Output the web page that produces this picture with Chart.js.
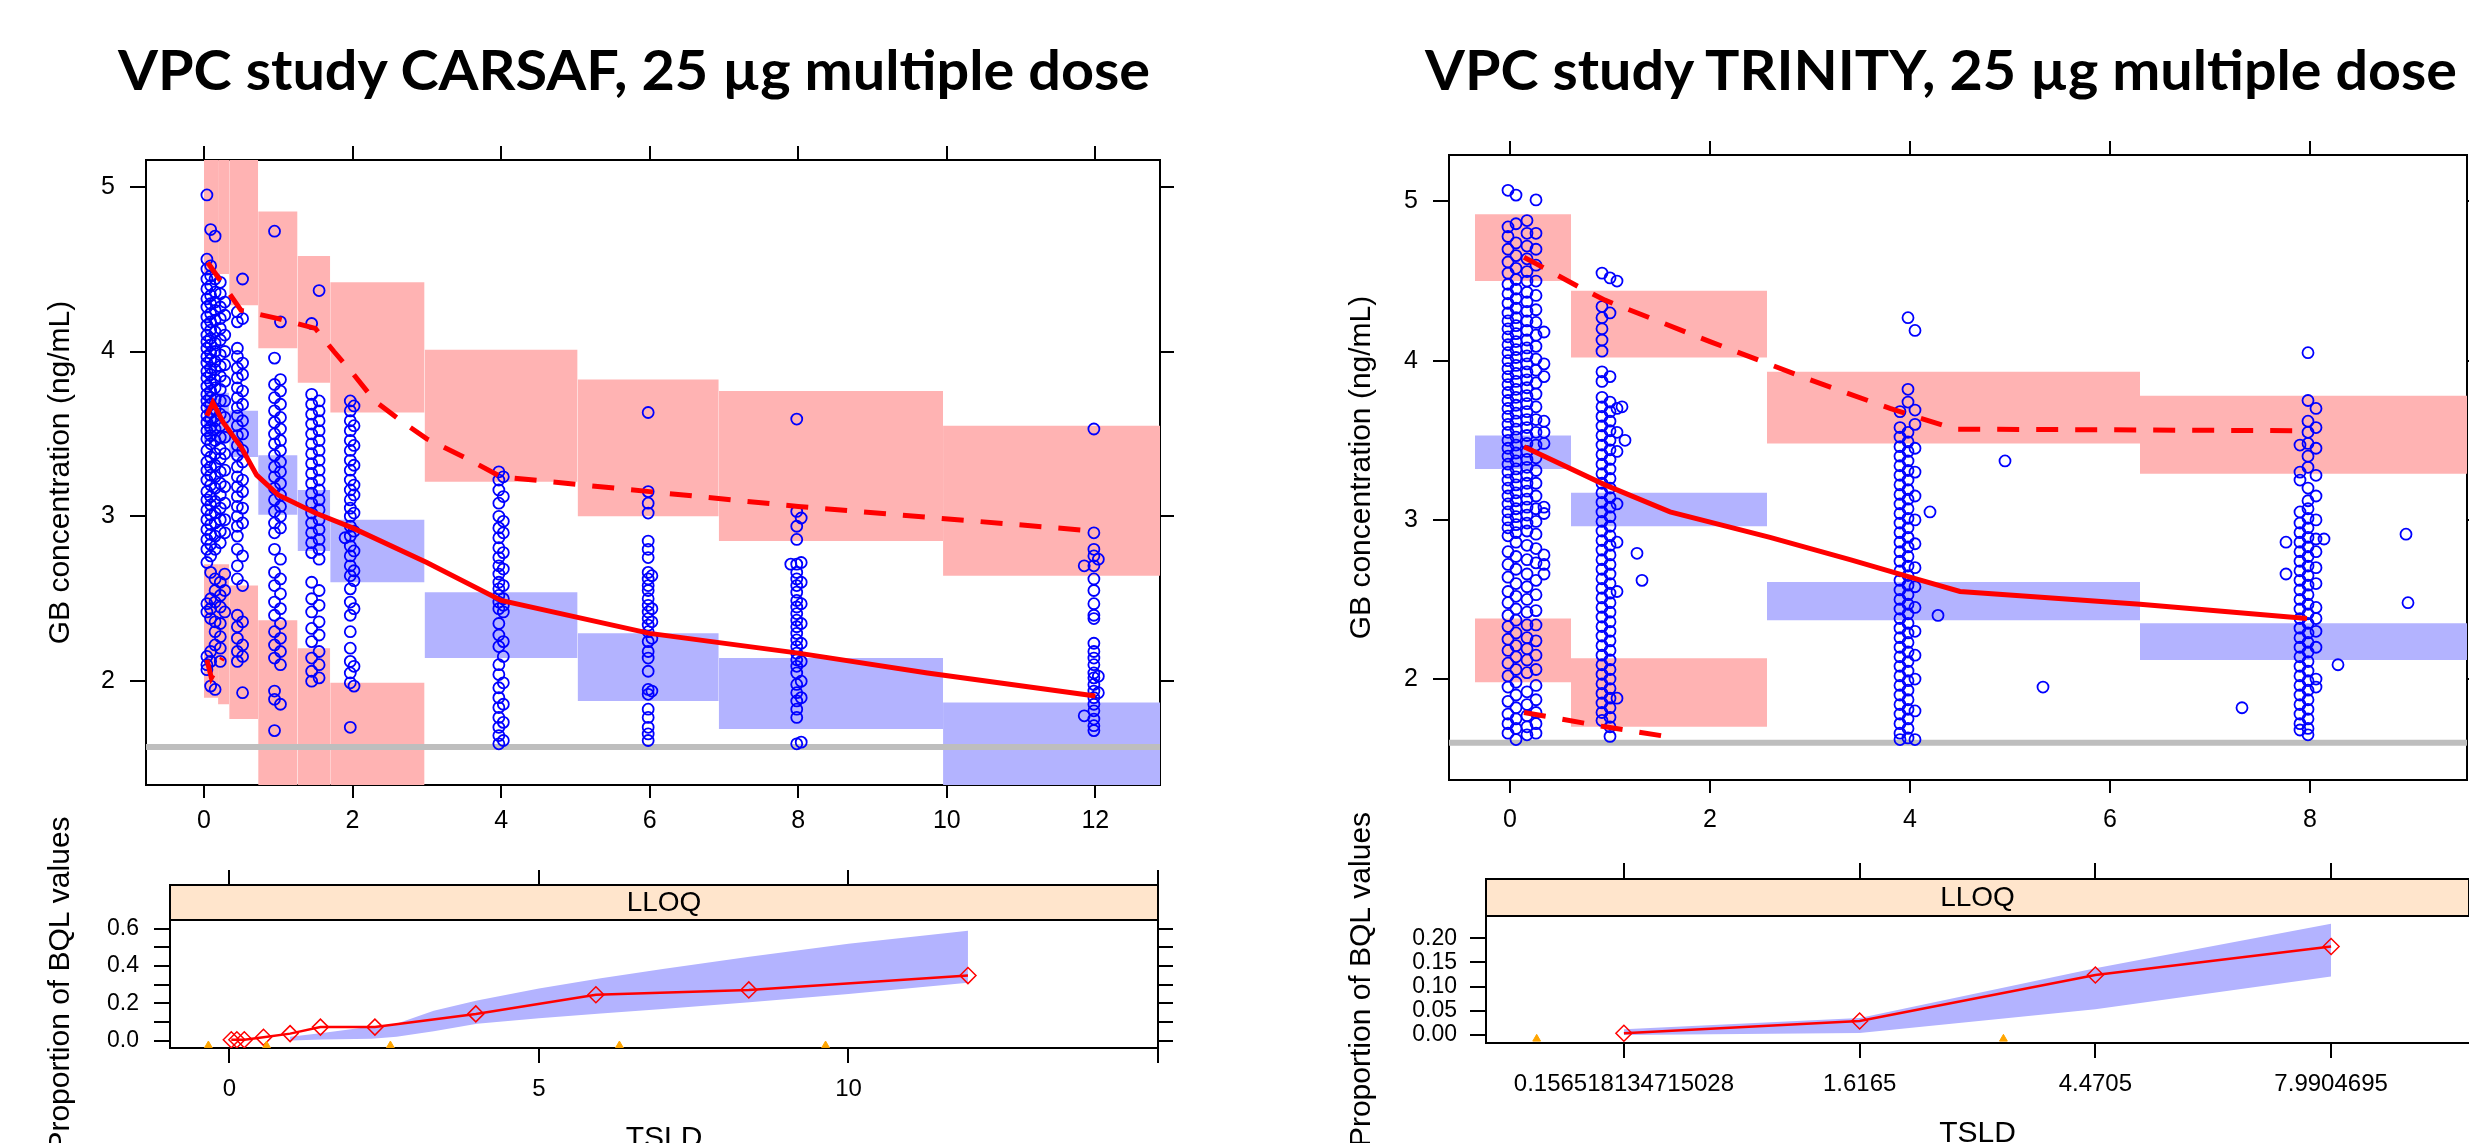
<!DOCTYPE html>
<html>
<head>
<meta charset="utf-8">
<script src="https://cdn.jsdelivr.net/npm/chart.js@4/dist/chart.umd.min.js"></script>
<style>
body { margin:0; width:2469px; height:1143px; overflow:hidden; background:#fff; position:relative; }
canvas { position:absolute; }
.ttl { position:absolute; top:41px; font-family: Lato, 'Liberation Sans', sans-serif; font-weight:bold; font-size:56px; line-height:56px; white-space:nowrap; transform-origin:left top; color:#000; }
</style>
</head>
<body>
<div class="ttl" id="t1">VPC study CARSAF, 25 µg multiple dose</div>
<div class="ttl" id="t2">VPC study TRINITY, 25 µg multiple dose</div>
<canvas id="mainL" width="1180" height="720" style="left:0;top:130px"></canvas>
<canvas id="mainR" width="1166" height="725" style="left:1303px;top:125px"></canvas>
<canvas id="bqlL" width="1180" height="385" style="left:0;top:790px"></canvas>
<canvas id="bqlR" width="1166" height="385" style="left:1303px;top:790px"></canvas>
<script>
// ---------------- CARSAF (left) ----------------
const LLOQ = 1.6;

// VPC bins and prediction intervals
const carsafBinStart = [0, 0.19, 0.34, 0.73, 1.26, 1.70, 2.97, 5.03, 6.93, 9.95];
const carsafBinEnd   = [0.19, 0.34, 0.73, 1.26, 1.70, 2.97, 5.03, 6.93, 9.95, 12.87];
const carsafHiPiLo  = [4.47, 4.47, 4.28, 4.02, 3.81, 3.63, 3.21, 3.00, 2.85, 2.64];
const carsafHiPiHi  = [5.5, 5.5, 5.5, 4.85, 4.58, 4.42, 4.01, 3.83, 3.76, 3.55];
const carsafMedPiLo = [3.45, 3.45, 3.36, 3.01, 2.79, 2.60, 2.14, 1.88, 1.71, 1.0];
const carsafMedPiHi = [3.75, 3.75, 3.64, 3.37, 3.16, 2.98, 2.54, 2.29, 2.14, 1.87];
const carsafLoPiLo  = [1.90, 1.86, 1.77, 1.0, 1.0, 1.0, null, null, null, null];
const carsafLoPiHi  = [2.71, 2.71, 2.58, 2.37, 2.20, 1.99, null, null, null, null];

// observed percentiles
const carsafMedT = [0.04, 0.12, 0.26, 0.5, 0.71, 1.0, 1.5, 2.0, 3.0, 4.0, 6.0, 8.0, 9.74, 12.0];
const carsafMedY = [3.61, 3.69, 3.57, 3.42, 3.25, 3.13, 3.02, 2.93, 2.72, 2.49, 2.29, 2.17, 2.05, 1.91];
const carsafP95T = [0.05, 0.5, 1.0, 1.5, 1.75, 2.0, 2.3, 2.65, 3.0, 3.5, 4.0, 6.0, 8.0, 12.0];
const carsafP95Y = [4.54, 4.25, 4.20, 4.14, 4.00, 3.87, 3.70, 3.58, 3.47, 3.36, 3.24, 3.15, 3.06, 2.91];
const carsafP05T = [0.04, 0.1, 0.25];
const carsafP05Y = [2.13, 2.02, 2.14];

// observations, one column per time
const carsafObsT = [0.04, 0.09, 0.15, 0.22, 0.28, 0.45, 0.52, 0.95, 1.03, 1.45, 1.55, 1.9, 1.97, 2.02,
                    3.97, 4.03, 5.98, 6.03, 7.9, 7.98, 8.04, 11.85, 11.98, 12.04];
const carsafObsY = [
  [4.95, 4.56, 4.50, 4.44, 4.38, 4.32, 4.27, 4.21, 4.16, 4.10, 4.06, 4.02, 3.97, 3.93, 3.88, 3.84, 3.79, 3.74, 3.70, 3.66, 3.61, 3.57, 3.52, 3.47, 3.40, 3.33, 3.28, 3.22, 3.15, 3.10, 3.04, 2.98, 2.92, 2.86, 2.80, 2.72, 2.47, 2.42, 2.15, 2.10, 2.07],
  [4.74, 4.52, 4.46, 4.40, 4.34, 4.29, 4.23, 4.18, 4.13, 4.08, 4.04, 3.99, 3.95, 3.90, 3.86, 3.81, 3.76, 3.72, 3.68, 3.63, 3.59, 3.54, 3.49, 3.44, 3.36, 3.30, 3.25, 3.19, 3.12, 3.07, 3.01, 2.95, 2.89, 2.83, 2.76, 2.66, 2.50, 2.44, 2.38, 2.18, 2.12, 1.97],
  [4.70, 4.44, 4.36, 4.30, 4.25, 4.19, 4.12, 4.05, 4.00, 3.94, 3.89, 3.83, 3.78, 3.71, 3.65, 3.58, 3.53, 3.46, 3.38, 3.31, 3.24, 3.17, 3.09, 3.02, 2.96, 2.88, 2.80, 2.62, 2.55, 2.48, 2.36, 2.30, 2.22, 1.95],
  [4.42, 4.35, 4.27, 4.20, 4.14, 4.07, 3.98, 3.91, 3.85, 3.77, 3.70, 3.62, 3.55, 3.48, 3.41, 3.35, 3.27, 3.20, 3.13, 3.05, 2.98, 2.91, 2.84, 2.60, 2.52, 2.45, 2.35, 2.27, 2.20, 2.12],
  [4.30, 4.22, 4.10, 4.00, 3.92, 3.82, 3.70, 3.60, 3.48, 3.38, 3.28, 3.18, 3.08, 2.98, 2.90, 2.65, 2.55, 2.42],
  [4.24, 4.18, 4.02, 3.97, 3.90, 3.84, 3.78, 3.72, 3.66, 3.61, 3.55, 3.49, 3.43, 3.37, 3.30, 3.24, 3.18, 3.12, 3.06, 3.00, 2.94, 2.88, 2.80, 2.70, 2.62, 2.40, 2.33, 2.26, 2.18, 2.12],
  [4.44, 4.20, 3.93, 3.86, 3.76, 3.68, 3.58, 3.50, 3.40, 3.33, 3.22, 3.15, 3.05, 2.96, 2.76, 2.58, 2.36, 2.22, 2.15, 1.93],
  [4.73, 3.96, 3.80, 3.72, 3.64, 3.57, 3.50, 3.44, 3.37, 3.30, 3.24, 3.17, 3.10, 3.03, 2.96, 2.90, 2.80, 2.66, 2.58, 2.48, 2.40, 2.30, 2.22, 2.14, 1.94, 1.89, 1.70],
  [4.18, 3.83, 3.76, 3.68, 3.60, 3.53, 3.46, 3.40, 3.33, 3.27, 3.20, 3.13, 3.06, 3.00, 2.93, 2.74, 2.62, 2.53, 2.44, 2.35, 2.26, 2.18, 2.10, 1.86],
  [4.17, 3.74, 3.68, 3.62, 3.56, 3.50, 3.44, 3.38, 3.32, 3.26, 3.20, 3.14, 3.08, 3.02, 2.96, 2.90, 2.84, 2.78, 2.60, 2.50, 2.42, 2.32, 2.24, 2.14, 2.06, 2.00],
  [4.37, 3.70, 3.64, 3.58, 3.52, 3.46, 3.40, 3.34, 3.28, 3.22, 3.16, 3.10, 3.04, 2.98, 2.92, 2.86, 2.80, 2.74, 2.55, 2.46, 2.36, 2.28, 2.18, 2.10, 2.02],
  [2.87],
  [3.70, 3.64, 3.58, 3.52, 3.46, 3.40, 3.34, 3.28, 3.22, 3.16, 3.10, 3.05, 3.00, 2.94, 2.88, 2.82, 2.76, 2.70, 2.64, 2.56, 2.48, 2.40, 2.30, 2.20, 2.12, 2.05, 1.99, 1.72],
  [3.67, 3.55, 3.43, 3.31, 3.19, 3.13, 3.02, 2.91, 2.79, 2.67, 2.61, 2.44, 2.09, 1.97],
  [3.27, 3.22, 3.16, 3.08, 3.00, 2.93, 2.87, 2.81, 2.75, 2.70, 2.65, 2.60, 2.56, 2.52, 2.48, 2.44, 2.35, 2.28, 2.21, 2.10, 2.04, 1.96, 1.90, 1.84, 1.78, 1.72, 1.67, 1.62],
  [3.24, 3.12, 2.97, 2.90, 2.78, 2.68, 2.58, 2.50, 2.46, 2.42, 2.24, 2.15, 1.99, 1.86, 1.75, 1.64],
  [3.63, 3.15, 3.08, 3.02, 2.85, 2.80, 2.75, 2.66, 2.62, 2.58, 2.55, 2.50, 2.46, 2.42, 2.38, 2.34, 2.30, 2.24, 2.18, 2.14, 2.06, 1.95, 1.92, 1.83, 1.78, 1.72, 1.68, 1.64],
  [2.64, 2.44, 2.36, 2.26, 1.94],
  [2.71],
  [3.59, 3.03, 2.94, 2.86, 2.71, 2.66, 2.62, 2.58, 2.54, 2.49, 2.45, 2.41, 2.37, 2.33, 2.29, 2.25, 2.21, 2.17, 2.13, 2.09, 2.05, 1.98, 1.93, 1.88, 1.83, 1.78, 1.62],
  [2.99, 2.72, 2.60, 2.47, 2.35, 2.23, 2.12, 2.00, 1.90, 1.63],
  [2.70, 1.79],
  [3.53, 2.90, 2.80, 2.76, 2.70, 2.62, 2.55, 2.47, 2.40, 2.38, 2.23, 2.18, 2.14, 2.10, 2.05, 2.02, 1.98, 1.94, 1.90, 1.86, 1.82, 1.77, 1.73, 1.70],
  [2.74, 2.03, 1.93]
];

// BQL panel
const carsafBqlT   = [0.03, 0.12, 0.24, 0.55, 0.98, 1.47, 2.35, 3.98, 5.92, 8.39, 11.93];
const carsafBqlObs = [0.004, 0.004, 0.004, 0.017, 0.037, 0.072, 0.072, 0.143, 0.246, 0.272, 0.349];
const carsafBandT  = [0.98, 1.5, 2.3, 2.7, 3.3, 4.0, 5.0, 6.0, 7.0, 8.4, 10.0, 11.93];
const carsafBandLo = [0.0, 0.005, 0.01, 0.02, 0.05, 0.09, 0.12, 0.145, 0.17, 0.205, 0.25, 0.31];
const carsafBandHi = [0.02, 0.04, 0.075, 0.09, 0.16, 0.215, 0.28, 0.335, 0.385, 0.45, 0.52, 0.59];
const carsafRugT   = [-0.34, 0.6, 2.6, 6.3, 9.63];

// ---------------- TRINITY (right) ----------------
const trinityBinStart = [-0.35, 0.61, 2.57, 6.30];
const trinityBinEnd   = [0.61, 2.57, 6.30, 9.57];
const trinityHiPiLo  = [4.50, 4.02, 3.48, 3.29];
const trinityHiPiHi  = [4.92, 4.44, 3.93, 3.78];
const trinityMedPiLo = [3.32, 2.96, 2.37, 2.12];
const trinityMedPiHi = [3.53, 3.17, 2.61, 2.35];
const trinityLoPiLo  = [1.98, 1.70, null, null];
const trinityLoPiHi  = [2.38, 2.13, null, null];

const trinityMedT = [0.14, 0.95, 1.6, 2.6, 3.4, 4.0, 4.5, 6.3, 7.97];
const trinityMedY = [3.46, 3.22, 3.05, 2.89, 2.75, 2.64, 2.55, 2.47, 2.38];
const trinityP95T = [0.14, 0.7, 0.95, 2.0, 3.0, 3.8, 4.45, 7.95];
const trinityP95Y = [4.65, 4.46, 4.38, 4.12, 3.88, 3.70, 3.57, 3.56];
const trinityP05T = [0.14, 0.95, 1.56];
const trinityP05Y = [1.79, 1.70, 1.64];

const trinityObsT = [-0.02, 0.06, 0.17, 0.26, 0.34, 0.92, 1.0, 1.07, 1.12, 1.15, 1.27, 1.32,
                     3.9, 3.98, 4.05, 4.20, 4.28, 4.95, 5.33, 7.32, 7.76, 7.9, 7.98, 8.06, 8.14, 8.28, 8.96, 8.98];
const trinityObsY = [
  [5.07, 4.84, 4.78, 4.70, 4.62, 4.55, 4.48, 4.42, 4.36, 4.30, 4.25, 4.20, 4.15, 4.10, 4.05, 4.00, 3.95, 3.90, 3.85, 3.80, 3.75, 3.70, 3.65, 3.60, 3.55, 3.50, 3.45, 3.40, 3.35, 3.30, 3.25, 3.20, 3.15, 3.10, 3.05, 3.00, 2.95, 2.90, 2.80, 2.72, 2.64, 2.55, 2.48, 2.40, 2.33, 2.25, 2.18, 2.10, 2.02, 1.95, 1.86, 1.78, 1.72, 1.66],
  [5.04, 4.86, 4.74, 4.66, 4.58, 4.51, 4.45, 4.39, 4.33, 4.27, 4.22, 4.17, 4.12, 4.07, 4.02, 3.97, 3.92, 3.87, 3.82, 3.77, 3.72, 3.67, 3.62, 3.57, 3.52, 3.47, 3.42, 3.37, 3.32, 3.27, 3.22, 3.17, 3.12, 3.07, 3.02, 2.97, 2.92, 2.86, 2.77, 2.69, 2.60, 2.52, 2.44, 2.37, 2.29, 2.21, 2.14, 2.06, 1.98, 1.90, 1.82, 1.75, 1.69, 1.62],
  [4.88, 4.80, 4.72, 4.64, 4.56, 4.50, 4.43, 4.37, 4.31, 4.25, 4.19, 4.13, 4.08, 4.03, 3.98, 3.93, 3.88, 3.83, 3.78, 3.73, 3.68, 3.63, 3.58, 3.53, 3.48, 3.43, 3.38, 3.33, 3.28, 3.23, 3.18, 3.13, 3.08, 3.03, 2.98, 2.93, 2.84, 2.75, 2.66, 2.58, 2.50, 2.42, 2.34, 2.26, 2.19, 2.12, 2.04, 1.92, 1.84, 1.77, 1.70, 1.65],
  [5.01, 4.80, 4.70, 4.60, 4.50, 4.41, 4.32, 4.24, 4.16, 4.09, 4.01, 3.94, 3.86, 3.79, 3.71, 3.63, 3.55, 3.47, 3.39, 3.31, 3.23, 3.15, 3.07, 2.99, 2.91, 2.82, 2.73, 2.62, 2.53, 2.43, 2.34, 2.24, 2.15, 2.06, 1.96, 1.87, 1.79, 1.72, 1.66],
  [4.18, 3.98, 3.90, 3.62, 3.55, 3.48, 3.08, 3.04, 2.78, 2.72, 2.66],
  [4.55, 4.34, 4.27, 4.20, 4.13, 4.06, 3.93, 3.87, 3.77, 3.71, 3.65, 3.59, 3.53, 3.47, 3.41, 3.35, 3.29, 3.23, 3.17, 3.11, 3.05, 2.99, 2.93, 2.87, 2.81, 2.75, 2.69, 2.63, 2.57, 2.51, 2.45, 2.39, 2.33, 2.27, 2.21, 2.15, 2.09, 2.03, 1.97, 1.91, 1.85, 1.79, 1.74],
  [4.52, 4.30, 3.90, 3.74, 3.68, 3.62, 3.56, 3.50, 3.44, 3.38, 3.32, 3.26, 3.20, 3.14, 3.08, 3.02, 2.96, 2.90, 2.84, 2.78, 2.72, 2.66, 2.60, 2.54, 2.48, 2.42, 2.36, 2.30, 2.24, 2.18, 2.12, 2.06, 2.00, 1.94, 1.88, 1.82, 1.76, 1.70, 1.64],
  [4.50, 3.70, 3.55, 3.43, 3.10, 2.86, 2.55, 1.88],
  [3.71],
  [3.50],
  [2.79],
  [2.62],
  [3.68, 3.58, 3.52, 3.46, 3.40, 3.34, 3.28, 3.22, 3.16, 3.10, 3.04, 2.98, 2.92, 2.86, 2.80, 2.74, 2.68, 2.62, 2.56, 2.50, 2.44, 2.38, 2.32, 2.26, 2.20, 2.14, 2.08, 2.02, 1.96, 1.90, 1.84, 1.78, 1.72, 1.66, 1.62],
  [4.27, 3.82, 3.74, 3.55, 3.49, 3.43, 3.37, 3.31, 3.25, 3.19, 3.13, 3.07, 3.01, 2.95, 2.89, 2.83, 2.77, 2.71, 2.65, 2.59, 2.53, 2.47, 2.41, 2.35, 2.29, 2.23, 2.17, 2.11, 2.05, 1.99, 1.93, 1.87, 1.81, 1.75, 1.69, 1.63],
  [4.19, 3.69, 3.60, 3.45, 3.30, 3.15, 3.00, 2.85, 2.70, 2.58, 2.45, 2.30, 2.15, 2.00, 1.80, 1.62],
  [3.05],
  [2.40],
  [3.37],
  [1.95],
  [1.82],
  [2.86, 2.66],
  [3.47, 3.30, 3.25, 3.05, 2.98, 2.92, 2.86, 2.80, 2.74, 2.68, 2.62, 2.56, 2.50, 2.44, 2.38, 2.32, 2.26, 2.20, 2.14, 2.08, 2.02, 1.96, 1.90, 1.84, 1.78, 1.72, 1.68],
  [4.05, 3.75, 3.62, 3.55, 3.48, 3.40, 3.33, 3.20, 3.12, 3.07, 3.01, 2.95, 2.89, 2.83, 2.77, 2.71, 2.65, 2.59, 2.53, 2.47, 2.41, 2.35, 2.29, 2.23, 2.17, 2.11, 2.05, 1.99, 1.93, 1.87, 1.81, 1.75, 1.69, 1.65],
  [3.70, 3.58, 3.45, 3.28, 3.15, 3.00, 2.88, 2.80, 2.70, 2.60, 2.45, 2.38, 2.30, 2.20, 2.00, 1.95],
  [2.88],
  [2.09],
  [2.91],
  [2.48]
];

const trinityBqlLabels = ['0.156518134715028', '1.6165', '4.4705', '7.9904695'];
const trinityBqlObs    = [0.0035, 0.029, 0.124, 0.183];
const trinityBandLo    = [0.0, 0.004, 0.053, 0.121];
const trinityBandHi    = [0.012, 0.035, 0.138, 0.23];
const trinityRugPos    = [-0.37, 1.61];

// ---------------- helpers ----------------
Chart.defaults.font.family = "'Liberation Sans', Arial, sans-serif";
Chart.defaults.color = '#000';
Chart.defaults.animation = false;

const PINK = '#ffb3b3', LAV = '#b3b3ff', STRIP = '#ffe5cc', RED = '#ff0000';

function xy(xs, ys) { return xs.map((x, i) => ({x: x, y: ys[i]})); }

function axis(c) {
  const horiz = c.position === 'top' || c.position === 'bottom';
  const a = {
    type: 'linear', position: c.position, min: c.min, max: c.max, weight: c.weight || 0,
    afterFit: s => { if (horiz) s.height = c.size; else s.width = c.size; },
    grid: { display: !!c.values, drawOnChartArea: false, drawTicks: true, tickLength: c.tick || 15, color: '#000', lineWidth: 2 },
    border: { display: true, color: '#000', width: 2 },
    ticks: { display: !!c.labels, font: {size: c.font || 25}, padding: c.pad || 0, maxRotation: 0, autoSkip: false },
    title: { display: false }
  };
  if (c.values) a.afterBuildTicks = s => { s.ticks = c.values.map(v => ({value: v})); };
  if (c.labels) a.ticks.callback = c.labels;
  if (c.bg) a.backgroundColor = c.bg;
  if (c.title) a.title = { display: true, text: c.title, font: {size: c.titleSize || 30}, padding: c.titlePad };
  return a;
}

const stripFrame = {
  id: 'stripFrame',
  afterDraw(chart) {
    const s = chart.scales.x2;
    const ctx = chart.ctx;
    ctx.save();
    ctx.strokeStyle = '#000';
    ctx.lineWidth = 2;
    ctx.strokeRect(s.left, s.top, s.right - s.left, s.bottom - s.top);
    ctx.restore();
  }
};

function vpcDatasets(d) {
  const ds = [];
  const rects = (lo, hi, color) => {
    for (let i = 0; i < d.binStart.length; i++) {
      if (lo[i] == null) continue;
      ds.push({ type: 'line', data: [{x: d.binStart[i], y: hi[i]}, {x: d.binEnd[i], y: hi[i]}],
        borderWidth: 0, pointRadius: 0, fill: {value: lo[i]}, backgroundColor: color, order: 10 });
    }
  };
  rects(d.hiLo, d.hiHi, PINK);
  rects(d.medLo, d.medHi, LAV);
  rects(d.loLo, d.loHi, PINK);
  ds.push({ type: 'line', data: [{x: d.xmin, y: LLOQ}, {x: d.xmax, y: LLOQ}], borderColor: '#bebebe',
    borderWidth: 6, pointRadius: 0, fill: false, order: 9 });
  const pts = [];
  d.obsT.forEach((t, i) => d.obsY[i].forEach(v => pts.push({x: t, y: v})));
  ds.push({ type: 'scatter', data: pts, pointStyle: 'circle', pointRadius: 5.5, pointBorderWidth: 1.8,
    pointBorderColor: '#0000ff', pointBackgroundColor: 'rgba(0,0,0,0)', order: 5 });
  ds.push({ type: 'line', data: xy(d.medT, d.medY), borderColor: RED, borderWidth: 5, pointRadius: 0, fill: false, order: 1 });
  ds.push({ type: 'line', data: xy(d.p95T, d.p95Y), borderColor: RED, borderWidth: 5, borderDash: [22, 17], pointRadius: 0, fill: false, order: 1 });
  ds.push({ type: 'line', data: xy(d.p05T, d.p05Y), borderColor: RED, borderWidth: 5, borderDash: [22, 17], pointRadius: 0, fill: false, order: 1 });
  return ds;
}

const common = { responsive: false, animation: false, devicePixelRatio: 1,
  layout: { padding: 0, autoPadding: false },
  plugins: { legend: {display: false}, tooltip: {enabled: false} } };

// ---------------- main panels ----------------
const xL = {min: -0.78, max: 12.87}, yL = {min: 1.37, max: 5.162};
new Chart(document.getElementById('mainL'), {
  type: 'scatter',
  data: { datasets: vpcDatasets({
    binStart: carsafBinStart, binEnd: carsafBinEnd,
    hiLo: carsafHiPiLo, hiHi: carsafHiPiHi, medLo: carsafMedPiLo, medHi: carsafMedPiHi, loLo: carsafLoPiLo, loHi: carsafLoPiHi,
    medT: carsafMedT, medY: carsafMedY, p95T: carsafP95T, p95Y: carsafP95Y, p05T: carsafP05T, p05Y: carsafP05Y,
    obsT: carsafObsT, obsY: carsafObsY, xmin: xL.min, xmax: xL.max }) },
  options: Object.assign({}, common, { scales: {
    x:  axis({position: 'bottom', min: xL.min, max: xL.max, values: [0, 2, 4, 6, 8, 10, 12], size: 65, tick: 13, labels: v => String(v), pad: 8 }),
    x2: axis({position: 'top', min: xL.min, max: xL.max, values: [0, 2, 4, 6, 8, 10, 12], size: 23, tick: 14 }),
    y:  axis({position: 'left', min: yL.min, max: yL.max, values: [2, 3, 4, 5], size: 146, tick: 16, labels: v => String(v), pad: 15,
              title: 'GB concentration (ng/mL)', titlePad: {top: 43, bottom: 0} }),
    y2: axis({position: 'right', min: yL.min, max: yL.max, values: [2, 3, 4, 5], size: 20, tick: 14 })
  } })
});

const xR = {min: -0.61, max: 9.57}, yR = {min: 1.366, max: 5.292};
new Chart(document.getElementById('mainR'), {
  type: 'scatter',
  data: { datasets: vpcDatasets({
    binStart: trinityBinStart, binEnd: trinityBinEnd,
    hiLo: trinityHiPiLo, hiHi: trinityHiPiHi, medLo: trinityMedPiLo, medHi: trinityMedPiHi, loLo: trinityLoPiLo, loHi: trinityLoPiHi,
    medT: trinityMedT, medY: trinityMedY, p95T: trinityP95T, p95Y: trinityP95Y, p05T: trinityP05T, p05Y: trinityP05Y,
    obsT: trinityObsT, obsY: trinityObsY, xmin: xR.min, xmax: xR.max }) },
  options: Object.assign({}, common, { scales: {
    x:  axis({position: 'bottom', min: xR.min, max: xR.max, values: [0, 2, 4, 6, 8], size: 70, tick: 13, labels: v => String(v), pad: 12 }),
    x2: axis({position: 'top', min: xR.min, max: xR.max, values: [0, 2, 4, 6, 8], size: 23, tick: 14 }),
    y:  axis({position: 'left', min: yR.min, max: yR.max, values: [2, 3, 4, 5], size: 146, tick: 16, labels: v => String(v), pad: 15,
              title: 'GB concentration (ng/mL)', titlePad: {top: 41, bottom: 0} }),
    y2: axis({position: 'right', min: yR.min, max: yR.max, values: [2, 3, 4, 5], size: 2, tick: 14 })
  } })
});

// ---------------- BQL panels ----------------
function bqlDatasets(xs, obs, bandX, lo, hi, rugX, rugY) {
  return [
    { type: 'line', data: xy(bandX, hi), borderWidth: 0, pointRadius: 0, fill: '+1', backgroundColor: LAV, order: 10 },
    { type: 'line', data: xy(bandX, lo), borderWidth: 0, pointRadius: 0, fill: false, order: 10 },
    { type: 'line', data: xy(xs, obs), borderColor: RED, borderWidth: 2.5, pointStyle: 'rectRot', pointRadius: 8,
      pointBorderWidth: 1.5, pointBorderColor: RED, pointBackgroundColor: 'rgba(0,0,0,0)', fill: false, order: 2 },
    { type: 'scatter', data: rugX.map(x => ({x: x, y: rugY})), pointStyle: 'triangle', pointRadius: 4.5,
      pointBackgroundColor: '#ffa500', pointBorderColor: '#ffa500', pointBorderWidth: 1, order: 1 }
  ];
}

const bxL = {min: -0.96, max: 15}, byL = {min: -0.0403, max: 0.6478};
new Chart(document.getElementById('bqlL'), {
  type: 'scatter',
  data: { datasets: bqlDatasets(carsafBqlT, carsafBqlObs, carsafBandT, carsafBandLo, carsafBandHi, carsafRugT, -0.027) },
  options: Object.assign({}, common, { scales: {
    x:  axis({position: 'bottom', min: bxL.min, max: bxL.max, values: [0, 5, 10, 15], size: 127, tick: 15,
              labels: v => (v === 15 ? '' : String(v)), font: 24, pad: 12, title: 'TSLD', titlePad: {top: 0, bottom: 18} }),
    x2: axis({position: 'top', min: bxL.min, max: bxL.max, size: 35, bg: STRIP, title: 'LLOQ', titleSize: 28, titlePad: {top: 1, bottom: 0} }),
    x3: axis({position: 'top', min: bxL.min, max: bxL.max, values: [0, 5, 10, 15], size: 95, tick: 15, weight: 1 }),
    y:  axis({position: 'left', min: byL.min, max: byL.max, values: [0, 0.1, 0.2, 0.3, 0.4, 0.5, 0.6], size: 170, tick: 16,
              labels: (v, i) => (i % 2 === 0 ? v.toFixed(1) : ''), font: 23, pad: 15,
              title: 'Proportion of BQL values', titlePad: {top: 43, bottom: 0} }),
    y2: axis({position: 'right', min: byL.min, max: byL.max, values: [0, 0.1, 0.2, 0.3, 0.4, 0.5, 0.6], size: 22, tick: 15 })
  } })
  , plugins: [stripFrame]
});

const bxR = {min: -0.585, max: 3.585}, byR = {min: -0.0166, max: 0.2462};
new Chart(document.getElementById('bqlR'), {
  type: 'scatter',
  data: { datasets: bqlDatasets([0, 1, 2, 3], trinityBqlObs, [0, 1, 2, 3], trinityBandLo, trinityBandHi, trinityRugPos, -0.008) },
  options: Object.assign({}, common, { scales: {
    x:  axis({position: 'bottom', min: bxR.min, max: bxR.max, values: [0, 1, 2, 3], size: 132, tick: 15,
              labels: v => trinityBqlLabels[v], font: 24, pad: 12, title: 'TSLD', titlePad: {top: 0, bottom: 23} }),
    x2: axis({position: 'top', min: bxR.min, max: bxR.max, size: 37, bg: STRIP, title: 'LLOQ', titleSize: 28, titlePad: {top: 2, bottom: 0} }),
    x3: axis({position: 'top', min: bxR.min, max: bxR.max, values: [0, 1, 2, 3], size: 89, tick: 16, weight: 1 }),
    y:  axis({position: 'left', min: byR.min, max: byR.max, values: [0, 0.05, 0.1, 0.15, 0.2], size: 183, tick: 16,
              labels: v => v.toFixed(2), font: 23, pad: 13,
              title: 'Proportion of BQL values', titlePad: {top: 41, bottom: 0} })
  } })
  , plugins: [stripFrame]
});

// ---------------- titles ----------------
[['t1', 634], ['t2', 1941]].forEach(([id, cx]) => {
  const el = document.getElementById(id);
  const k = 1032 / el.offsetWidth;
  el.style.transform = 'scaleX(' + k + ')';
  el.style.left = (cx - 516) + 'px';
});
</script>
</body>
</html>
